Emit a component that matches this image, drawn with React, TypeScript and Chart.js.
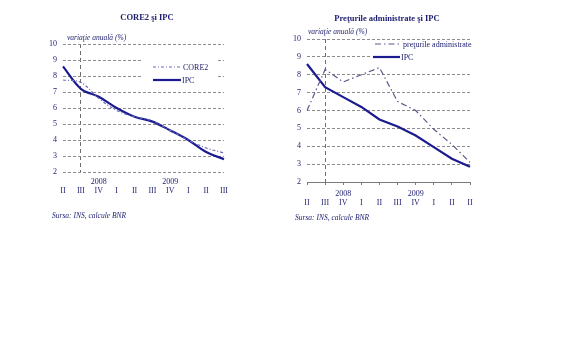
import React, { useEffect, useRef } from "react";
import { Chart, registerables } from "chart.js";

Chart.register(...registerables);

// ---- data ----
const quartersLeft = ["II", "III", "IV", "I", "II", "III", "IV", "I", "II", "III"];
const quartersRight = ["II", "III", "IV", "I", "II", "III", "IV", "I", "II", "II"];
const years = ["", "", "2008", "", "", "", "2009", "", "", ""];

const ipcLeft = [8.6, 7.2, 6.7, 6.0, 5.45, 5.15, 4.6, 4.0, 3.25, 2.8];
const core2 = [7.75, 7.6, 6.6, 5.85, 5.45, 5.2, 4.6, 4.0, 3.5, 3.2];

const ipcRight = [8.6, 7.3, 6.75, 6.2, 5.5, 5.1, 4.6, 3.95, 3.3, 2.85];
const administrate = [6.0, 8.3, 7.6, 8.0, 8.4, 6.5, 6.0, 4.95, 4.1, 3.1];

const yMin = 2;
const yMax = 10;

const SERIF = "'Liberation Serif', 'DejaVu Serif', serif";
const NAVY = "#1c1c6e";
const GRID = "#8c8c8c";

const boxLegend = {
  id: "boxLegend",
  beforeDatasetsDraw(chart: any, _args: any, opts: any) {
    if (!opts || !opts.box) return;
    const ctx = chart.ctx;
    ctx.save();
    ctx.fillStyle = "#ffffff";
    ctx.fillRect(opts.box[0], opts.box[1], opts.box[2], opts.box[3]);
    chart.data.datasets.forEach((ds: any, i: number) => {
      const row = opts.rows[i];
      ctx.beginPath();
      ctx.setLineDash(ds.borderDash || []);
      ctx.strokeStyle = ds.borderColor;
      ctx.lineWidth = ds.borderWidth;
      ctx.moveTo(row[0], row[2]);
      ctx.lineTo(row[1], row[2]);
      ctx.stroke();
      ctx.setLineDash([]);
      ctx.fillStyle = NAVY;
      ctx.font = `8px ${SERIF}`;
      ctx.textBaseline = "middle";
      ctx.fillText(ds.label, row[1] + 1, row[2] + 0.5);
    });
    ctx.restore();
  },
};

function makeLabels(q: string[]) {
  return q.map((s, i) => [years[i], s]);
}

function LineChart(props: {
  left: number;
  labels: string[];
  datasets: any[];
  padding: any;
  yWidth: number;
  rightAxis: boolean;
  legend: any;
}) {
  const ref = useRef<HTMLCanvasElement>(null);
  useEffect(() => {
    const chart = new Chart(ref.current as HTMLCanvasElement, {
      type: "line",
      data: { labels: makeLabels(props.labels) as any, datasets: props.datasets },
      plugins: [boxLegend],
      options: {
        animation: false,
        responsive: false,
        devicePixelRatio: 1,
        layout: { padding: props.padding },
        plugins: {
          legend: { display: false },
          tooltip: { enabled: false },
          boxLegend: props.legend,
        } as any,
        elements: { point: { radius: 0 } },
        scales: {
          x: {
            offset: false,
            afterFit: (s: any) => {
              s.height = 30;
            },
            border: props.rightAxis
              ? { display: true, color: "#7a7a7a", width: 1, dash: [4, 3] }
              : { display: false, dash: [4, 3] },
            grid: {
              drawOnChartArea: true,
              drawTicks: props.rightAxis,
              tickLength: 3,
              tickColor: "#7a7a7a",
              tickBorderDash: [],
              color: (c: any) => (c.index === 1 ? "#6e6e6e" : "rgba(0,0,0,0)"),
              lineWidth: 1,
            },
            ticks: {
              autoSkip: false,
              maxRotation: 0,
              padding: props.rightAxis ? 4 : 5,
              color: NAVY,
              font: { family: SERIF, size: 8, lineHeight: "9px" },
            },
          },
          y: {
            min: yMin,
            max: yMax,
            afterFit: (s: any) => {
              s.width = props.yWidth;
            },
            border: { display: false, dash: [3, 2] },
            grid: { color: GRID, drawTicks: false, lineWidth: 1 },
            ticks: {
              stepSize: 1,
              padding: 6,
              color: NAVY,
              font: { family: SERIF, size: 8 },
            },
          },
        },
      },
    });
    return () => chart.destroy();
  }, []);
  return (
    <canvas
      ref={ref}
      width={288}
      height={240}
      style={{ position: "absolute", left: props.left, top: 0, width: 288, height: 240 }}
    />
  );
}

const txt = (extra: any) => ({
  position: "absolute" as const,
  fontFamily: SERIF,
  color: NAVY,
  lineHeight: 1,
  whiteSpace: "nowrap" as const,
  ...extra,
});

export default function App() {
  const leftSets = [
    {
      label: "CORE2",
      data: core2,
      borderColor: "#6a6ac0",
      borderWidth: 1.2,
      borderDash: [3, 2, 1, 2],
      tension: 0.35,
      fill: false,
    },
    {
      label: "IPC",
      data: ipcLeft,
      borderColor: "#1b1b8f",
      borderWidth: 2.2,
      tension: 0.35,
      fill: false,
    },
  ];
  const rightSets = [
    {
      label: "preţurile administrate",
      data: administrate,
      borderColor: "#5a5a8c",
      borderWidth: 1.2,
      borderDash: [6, 3, 1.5, 3],
      tension: 0,
      fill: false,
    },
    {
      label: "IPC",
      data: ipcRight,
      borderColor: "#1b1b8f",
      borderWidth: 2.2,
      tension: 0,
      fill: false,
    },
  ];
  return (
    <div style={{ position: "absolute", left: 0, top: 0, width: 576, height: 360, background: "#fff" }}>
      <LineChart
        left={0}
        labels={quartersLeft}
        datasets={leftSets}
        padding={{ left: 43, right: 64, top: 44, bottom: 38 }}
        yWidth={20}
        rightAxis={false}
        legend={{ box: [142, 56, 74, 30], rows: [[153, 182, 67], [153, 181, 80]] }}
      />
      <LineChart
        left={288}
        labels={quartersRight}
        datasets={rightSets}
        padding={{ left: 5, right: 106, top: 39, bottom: 28 }}
        yWidth={14}
        rightAxis={true}
        legend={{ box: [84, 41, 108, 22], rows: [[87, 114, 44], [85, 112, 57]] }}
      />
      <div style={txt({ left: 147, top: 13, transform: "translateX(-50%)", fontSize: 8.5, fontWeight: "bold" })}>
        CORE2 şi IPC
      </div>
      <div style={txt({ left: 387, top: 14, transform: "translateX(-50%)", fontSize: 8.5, fontWeight: "bold" })}>
        Preţurile administrate şi IPC
      </div>
      <div style={txt({ left: 67, top: 34, fontSize: 7.5, fontStyle: "italic" })}>variaţie anuală (%)</div>
      <div style={txt({ left: 308, top: 28, fontSize: 7.5, fontStyle: "italic" })}>variaţie anuală (%)</div>
      <div style={txt({ left: 52, top: 212, fontSize: 7.5, fontStyle: "italic" })}>Sursa: INS, calcule BNR</div>
      <div style={txt({ left: 295, top: 214, fontSize: 7.5, fontStyle: "italic" })}>Sursa: INS, calcule BNR</div>
    </div>
  );
}
